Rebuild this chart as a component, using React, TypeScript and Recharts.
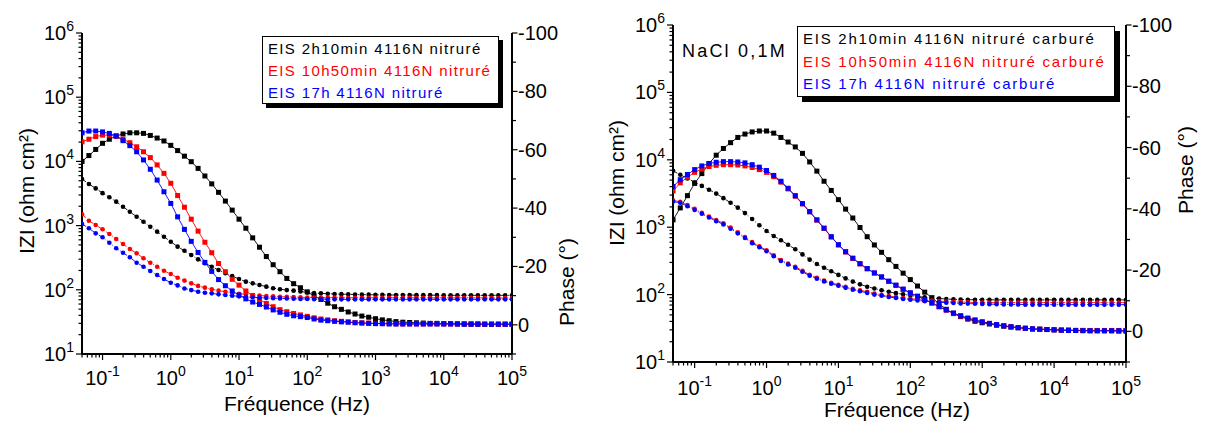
import React from "react";
import { ComposedChart, Line, XAxis, YAxis, Legend } from "recharts";

const FONT = '"Liberation Sans", Arial, sans-serif';

// fréquences (Hz), 10 points par décade
const freq = [
  0.0501, 0.0631, 0.0794, 0.1, 0.1259, 0.1585, 0.1995, 0.2512, 0.3162, 0.3981,
  0.5012, 0.631, 0.7943, 1, 1.259, 1.585, 1.995, 2.512, 3.162, 3.981,
  5.012, 6.31, 7.943, 10, 12.59, 15.85, 19.95, 25.12, 31.62, 39.81,
  50.12, 63.1, 79.43, 100, 125.9, 158.5, 199.5, 251.2, 316.2, 398.1,
  501.2, 631, 794.3, 1000, 1259, 1585, 1995, 2512, 3162, 3981,
  5012, 6310, 7943, 10000, 12590, 15850, 19950, 25120, 31620, 39810,
  50120, 63100, 79430, 100000,
];

// 4116N nitruré : |Z| (ohm cm2)
const nitZ2h = [
  5300, 4450, 3800, 3200, 2760, 2360, 1970, 1640, 1375, 1150,
  960, 805, 672, 561, 470, 405, 348, 298, 259, 229,
  203, 181, 164, 147, 134, 126, 119, 112, 106, 102,
  99, 97, 94, 91, 89, 88, 87, 86, 85.5, 85,
  84.5, 84, 84, 83.5, 83.5, 83, 83, 83, 83, 82.5,
  82.5, 82.5, 82.5, 82, 82, 82, 82, 82, 82, 82,
  82, 82, 82, 82,
];
const nitZ10h = [
  1500, 1190, 1020, 875, 740, 618, 517, 432, 370, 310,
  264, 229, 198, 176, 154, 139, 126, 115, 108, 102,
  97, 93, 90, 87, 85, 83, 81.5, 80, 79, 78,
  77.5, 77, 76.5, 76, 76, 75.5, 75.5, 75.5, 75, 75,
  75, 75, 75, 75, 75, 75, 75, 75, 75, 75,
  75, 75, 75, 75, 75, 75, 75, 75, 75, 74.5,
  74.5, 74.5, 74.5, 74.5,
];
const nitZ17h = [
  1060, 908, 758, 658, 542, 443, 378, 321, 264, 229,
  196, 170, 147, 129, 117, 105, 99, 93, 90, 88,
  85, 83, 81, 79, 77.5, 76.5, 75.5, 74.5, 74, 73.5,
  73, 72.5, 72, 72, 71.5, 71.5, 71.5, 71, 71, 71,
  71, 71, 71, 71, 71, 71, 71, 71, 71, 71,
  71, 71, 71, 71, 71, 71, 71, 71, 71, 71,
  71, 71, 71, 71,
];

// 4116N nitruré : phase (°)
const nitPh2h = [
  -56.0, -58.0, -60.1, -62.2, -63.6, -64.7, -65.4, -65.8, -65.8, -65.6,
  -64.9, -64.0, -63.0, -61.5, -59.7, -57.8, -55.9, -53.6, -51.0, -48.3,
  -45.4, -42.4, -39.3, -36.2, -33.1, -29.8, -26.6, -23.4, -20.6, -18.2,
  -15.9, -14.1, -12.7, -11.3, -9.9, -8.7, -7.4, -6.2, -5.3, -4.4,
  -3.7, -3.0, -2.6, -2.1, -1.7, -1.4, -1.1, -0.9, -0.8, -0.7,
  -0.6, -0.5, -0.5, -0.4, -0.4, -0.3, -0.3, -0.3, -0.3, -0.2,
  -0.2, -0.2, -0.2, -0.2,
];
const nitPh10h = [
  -62.7, -63.6, -64.5, -65.0, -65.0, -64.6, -63.6, -62.4, -61.0, -59.3,
  -57.3, -54.8, -51.9, -48.5, -44.3, -40.3, -36.2, -32.1, -28.3, -24.7,
  -21.0, -18.2, -15.6, -13.6, -11.6, -10.0, -8.7, -7.3, -6.2, -5.2,
  -4.5, -3.9, -3.4, -2.9, -2.4, -2.0, -1.7, -1.4, -1.2, -1.0,
  -0.8, -0.7, -0.6, -0.5, -0.4, -0.4, -0.3, -0.3, -0.3, -0.3,
  -0.3, -0.3, -0.3, -0.3, -0.3, -0.3, -0.3, -0.2, -0.2, -0.2,
  -0.2, -0.2, -0.2, -0.2,
];
const nitPh17h = [
  -65.8, -66.4, -66.4, -66.1, -65.6, -64.7, -63.1, -61.4, -59.3, -56.5,
  -53.3, -49.6, -45.6, -41.6, -37.0, -32.7, -28.6, -24.8, -21.4, -18.3,
  -15.5, -13.4, -11.6, -10.2, -8.9, -7.8, -7.0, -6.1, -5.1, -4.3,
  -3.6, -3.1, -2.8, -2.5, -2.0, -1.6, -1.4, -1.2, -1.0, -0.9,
  -0.7, -0.6, -0.5, -0.4, -0.4, -0.3, -0.3, -0.3, -0.3, -0.3,
  -0.3, -0.3, -0.3, -0.3, -0.3, -0.3, -0.2, -0.2, -0.2, -0.2,
  -0.2, -0.2, -0.2, -0.2,
];

// 4116N nitruré carburé : |Z| (ohm cm2)
const carbZ2h = [
  6850, 6000, 5300, 4650, 4100, 3600, 3150, 2700, 2300, 1950,
  1620, 1320, 1070, 880, 740, 640, 550, 470, 395, 330,
  285, 250, 222, 196, 174, 156, 142, 131, 123, 116,
  110, 105, 101, 97, 94, 91, 89, 87.5, 86, 85,
  84.5, 84, 84, 84, 84, 83.5, 83.5, 83.5, 83.5, 83.5,
  83.5, 83.5, 83.5, 83.5, 83.5, 83.5, 83.5, 83.5, 83.5, 83.5,
  83.5, 83.5, 83.5, 83.5,
];
const carbZ10h = [
  2500, 2380, 2130, 1870, 1640, 1440, 1280, 1140, 985, 840,
  715, 600, 522, 455, 383, 326, 290, 259, 226, 197,
  178, 162, 150, 140, 130, 122, 116, 110, 104, 99,
  95, 92, 89, 87, 85, 83, 81.5, 80, 79, 78,
  77.5, 77, 76.5, 76.5, 76, 76, 76, 76, 76, 76,
  76, 76, 76, 76, 76, 76, 76, 76, 76, 76,
  76, 76, 76, 76,
];
const carbZ17h = [
  2400, 2300, 2050, 1800, 1580, 1390, 1230, 1100, 950, 810,
  690, 580, 505, 440, 370, 315, 280, 250, 218, 190,
  172, 157, 145, 135, 126, 118, 112, 106, 100, 96,
  92, 89, 86, 84, 82, 80, 78.5, 77, 76, 75,
  74, 73.5, 73, 72.5, 72, 72, 71.5, 71.5, 71.5, 71,
  71, 71, 71, 71, 71, 71, 71, 71, 71, 71,
  71, 71, 71, 71,
];

// 4116N nitruré carburé : phase (°)
const carbPh2h = [
  -36.4, -40.3, -44.3, -48.3, -51.5, -54.8, -57.5, -59.7, -61.6, -63.3,
  -64.4, -65.1, -65.4, -65.4, -64.7, -63.3, -61.8, -60.2, -58.1, -55.3,
  -52.3, -49.0, -46.0, -43.0, -39.9, -37.0, -33.9, -30.9, -28.2, -25.8,
  -23.4, -21.2, -19.0, -16.9, -14.8, -12.8, -11.0, -9.0, -7.2, -5.8,
  -4.8, -4.0, -3.3, -2.8, -2.4, -2.0, -1.7, -1.4, -1.2, -1.0,
  -0.8, -0.7, -0.6, -0.5, -0.4, -0.4, -0.3, -0.3, -0.2, -0.2,
  -0.2, -0.2, -0.1, -0.1,
];
const carbPh10h = [
  -45.8, -48.5, -50.3, -51.9, -53.0, -53.8, -54.2, -54.4, -54.4, -54.3,
  -54.0, -53.5, -52.8, -51.9, -50.5, -48.7, -46.5, -44.1, -41.6, -39.0,
  -36.3, -33.6, -30.8, -28.2, -25.9, -23.8, -22.0, -20.4, -19.0, -17.7,
  -16.3, -15.0, -13.7, -12.5, -11.4, -10.3, -9.2, -8.0, -6.9, -5.9,
  -5.0, -4.3, -3.7, -3.1, -2.6, -2.2, -1.8, -1.5, -1.2, -1.0,
  -0.8, -0.7, -0.6, -0.5, -0.4, -0.4, -0.3, -0.3, -0.3, -0.3,
  -0.3, -0.3, -0.3, -0.3,
];
const carbPh17h = [
  -47.3, -49.5, -51.2, -52.8, -54.0, -54.8, -55.2, -55.4, -55.4, -55.3,
  -55.0, -54.4, -53.6, -52.5, -50.9, -49.0, -46.7, -44.3, -41.7, -39.1,
  -36.4, -33.7, -30.9, -28.3, -26.0, -23.9, -22.1, -20.5, -19.1, -17.8,
  -16.4, -15.1, -13.8, -12.6, -11.5, -10.4, -9.3, -8.1, -7.0, -6.0,
  -5.1, -4.3, -3.7, -3.1, -2.6, -2.2, -1.8, -1.5, -1.2, -1.0,
  -0.8, -0.7, -0.6, -0.5, -0.4, -0.3, -0.3, -0.2, -0.2, -0.2,
  -0.2, -0.2, -0.2, -0.2,
];

const legendNit = [
  "EIS 2h10min 4116N nitruré",
  "EIS 10h50min 4116N nitruré",
  "EIS 17h 4116N nitruré",
];
const legendCarb = [
  "EIS 2h10min 4116N nitruré carburé",
  "EIS 10h50min 4116N nitruré carburé",
  "EIS 17h 4116N nitruré carburé",
];
const colors = ["#000000", "#ff0000", "#0000ff"];

const xMajor = [0.1, 1, 10, 100, 1000, 10000, 100000];
const yMajor = [10, 100, 1000, 10000, 100000, 1000000];
const phaseTicks = [-100, -90, -80, -70, -60, -50, -40, -30, -20, -10, 0, 10];
const phaseLabels = [-100, -80, -60, -40, -20, 0];
const minorSteps = [2, 3, 4, 5, 6, 7, 8, 9];

const xTicks = [
  0.05, 0.06, 0.07, 0.08, 0.09,
  ...xMajor.flatMap((d) => (d < 100000 ? [d, ...minorSteps.map((k) => d * k)] : [d])),
];
const yTicks = yMajor.flatMap((d) => (d < 1000000 ? [d, ...minorSteps.map((k) => d * k)] : [d]));

type Row = { f: number; [k: string]: number };

const buildRows = (z: number[][], p: number[][]): Row[] =>
  freq.map((f, i) => ({
    f,
    z0: z[0][i],
    p0: p[0][i],
    z1: z[1][i],
    p1: p[1][i],
    z2: z[2][i],
    p2: p[2][i],
  }));

const nitRows = buildRows([nitZ2h, nitZ10h, nitZ17h], [nitPh2h, nitPh10h, nitPh17h]);
const carbRows = buildRows([carbZ2h, carbZ10h, carbZ17h], [carbPh2h, carbPh10h, carbPh17h]);

const squareDot = (color: string) => (p: any) => (
  <rect key={`s-${p.index}`} x={p.cx - 2.5} y={p.cy - 2.5} width={5} height={5} fill={color} />
);
const roundDot = (color: string) => (p: any) => (
  <circle key={`c-${p.index}`} cx={p.cx} cy={p.cy} r={2.3} fill={color} />
);

const makeXTick = (dy: number) => (props: any) => {
  const { x, y, payload } = props;
  const v = payload.value;
  const major = xMajor.includes(v);
  return (
    <g>
      <line x1={x} x2={x} y1={y} y2={y + (major ? 6 : 3.5)} stroke="#000" strokeWidth={1.2} />
      {major && (
        <text x={x} y={y + dy} textAnchor="middle" fontFamily={FONT} fontSize={20} fill="#000">
          10
          <tspan fontSize={14} dy={-9}>
            {Math.round(Math.log10(v))}
          </tspan>
        </text>
      )}
    </g>
  );
};

const ZTick = (props: any) => {
  const { x, y, payload } = props;
  const v = payload.value;
  const major = yMajor.includes(v);
  return (
    <g>
      <line x1={x - (major ? 6 : 3.5)} x2={x} y1={y} y2={y} stroke="#000" strokeWidth={1.2} />
      {major && (
        <text x={x - 8} y={y + 7} textAnchor="end" fontFamily={FONT} fontSize={20} fill="#000">
          10
          <tspan fontSize={14} dy={-9}>
            {Math.round(Math.log10(v))}
          </tspan>
        </text>
      )}
    </g>
  );
};

const PhTick = (props: any) => {
  const { x, y, payload } = props;
  const v = payload.value;
  const major = phaseLabels.includes(v);
  return (
    <g>
      <line x1={x} x2={x + (major ? 5.5 : 4)} y1={y} y2={y} stroke="#000" strokeWidth={1.2} />
      {major && (
        <text x={x + 6} y={y + 7} textAnchor="start" fontFamily={FONT} fontSize={20} fill="#000">
          {v}
        </text>
      )}
    </g>
  );
};

type Box = {
  left: number;
  top: number;
  width: number;
  height: number;
  shadow: number;
  lineHeight: number;
  spacing: number;
};

function LegendBox({ labels, box }: { labels: string[]; box: Box }) {
  return (
    <div
      style={{
        boxSizing: "border-box",
        width: box.width,
        height: box.height,
        border: "1px solid #000",
        background: "#fff",
        boxShadow: `${box.shadow}px ${box.shadow}px 0 #000`,
        padding: "1px 0 0 5px",
        fontFamily: FONT,
        fontSize: 15,
        lineHeight: `${box.lineHeight}px`,
        letterSpacing: box.spacing,
        whiteSpace: "nowrap",
        textAlign: "left",
      }}
    >
      {labels.map((t, i) => (
        <div key={t} style={{ color: colors[i] }}>
          {t}
        </div>
      ))}
    </div>
  );
}

type PanelProps = {
  rows: Row[];
  width: number;
  margin: { top: number; right: number; bottom: number; left: number };
  labels: string[];
  box: Box;
  zTitle: { x: number; y: number };
  phTitle: { x: number; y: number };
  fTitle: { x: number; y: number };
  xLabelDy: number;
};

function Panel({ rows, width, margin, labels, box, zTitle, phTitle, fTitle, xLabelDy }: PanelProps) {
  const titleStyle = { fontFamily: FONT, fontSize: 21, fill: "#000" };
  return (
    <ComposedChart width={width} height={424} data={rows} margin={margin}>
      <XAxis
        dataKey="f"
        type="number"
        scale="log"
        domain={[0.05, 100000]}
        allowDataOverflow
        ticks={xTicks}
        interval={0}
        tick={makeXTick(xLabelDy)}
        tickLine={false}
        tickSize={0}
        tickMargin={0}
        height={40}
        axisLine={{ stroke: "#000", strokeWidth: 2 }}
        label={() => (
          <text x={fTitle.x} y={fTitle.y} textAnchor="middle" {...titleStyle}>
            Fréquence (Hz)
          </text>
        )}
      />
      <YAxis
        yAxisId="z"
        orientation="left"
        type="number"
        scale="log"
        domain={[10, 1000000]}
        allowDataOverflow
        ticks={yTicks}
        interval={0}
        tick={ZTick}
        tickLine={false}
        tickSize={0}
        tickMargin={0}
        width={60}
        axisLine={{ stroke: "#000", strokeWidth: 2 }}
        label={() => (
          <text
            x={zTitle.x}
            y={zTitle.y}
            textAnchor="middle"
            transform={`rotate(-90 ${zTitle.x} ${zTitle.y})`}
            {...titleStyle}
          >
            IZI (ohm cm²)
          </text>
        )}
      />
      <YAxis
        yAxisId="ph"
        orientation="right"
        type="number"
        domain={[-100, 10]}
        reversed
        allowDataOverflow
        ticks={phaseTicks}
        interval={0}
        tick={PhTick}
        tickLine={false}
        tickSize={0}
        tickMargin={0}
        width={60}
        axisLine={{ stroke: "#000", strokeWidth: 2 }}
        label={() => (
          <text
            x={phTitle.x}
            y={phTitle.y}
            textAnchor="middle"
            transform={`rotate(-90 ${phTitle.x} ${phTitle.y})`}
            {...titleStyle}
          >
            Phase (°)
          </text>
        )}
      />
      <Legend
        layout="horizontal"
        verticalAlign="middle"
        align="center"
        wrapperStyle={{ left: box.left, top: box.top, width: box.width, height: box.height }}
        content={() => <LegendBox labels={labels} box={box} />}
      />
      {[0, 1, 2].flatMap((k) => [
        <Line
          key={`z${k}`}
          yAxisId="z"
          dataKey={`z${k}`}
          type="linear"
          stroke={colors[k]}
          strokeWidth={0.9}
          strokeDasharray="5 2 1 2"
          dot={roundDot(colors[k])}
          activeDot={false}
          legendType="none"
          isAnimationActive={false}
        />,
        <Line
          key={`p${k}`}
          yAxisId="ph"
          dataKey={`p${k}`}
          type="linear"
          stroke={colors[k]}
          strokeWidth={0.9}
          dot={squareDot(colors[k])}
          activeDot={false}
          legendType="none"
          isAnimationActive={false}
        />,
      ])}
    </ComposedChart>
  );
}

export default function App() {
  return (
    <div
      style={{
        position: "absolute",
        left: 0,
        top: 0,
        width: 1206,
        height: 424,
        background: "#fff",
        overflow: "hidden",
      }}
    >
      <div style={{ position: "absolute", left: 0, top: 0 }}>
        <Panel
          rows={nitRows}
          width={600}
          margin={{ top: 33, right: 28, bottom: 30, left: 22 }}
          labels={legendNit}
          box={{ left: 262, top: 36, width: 237, height: 68, shadow: 4, lineHeight: 22, spacing: 1.35 }}
          zTitle={{ x: 33.5, y: 191 }}
          phTitle={{ x: 574, y: 282 }}
          fTitle={{ x: 297, y: 411 }}
          xLabelDy={31}
        />
      </div>
      <div style={{ position: "absolute", left: 600, top: 0 }}>
        <Panel
          rows={carbRows}
          width={606}
          margin={{ top: 25, right: 20, bottom: 22, left: 13 }}
          labels={legendCarb}
          box={{ left: 197, top: 26, width: 318, height: 71, shadow: 5, lineHeight: 22.5, spacing: 1.75 }}
          zTitle={{ x: 23.5, y: 183 }}
          phTitle={{ x: 593, y: 170 }}
          fTitle={{ x: 297, y: 417 }}
          xLabelDy={32.5}
        />
      </div>
      <svg
        width={1206}
        height={424}
        style={{ position: "absolute", left: 0, top: 0, pointerEvents: "none" }}
      >
        <text x={682} y={57.3} fontFamily={FONT} fontSize={18} letterSpacing={2.2} fill="#000">
          NaCl 0,1M
        </text>
      </svg>
    </div>
  );
}
